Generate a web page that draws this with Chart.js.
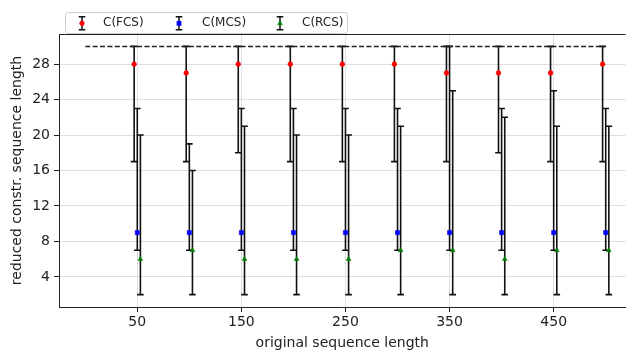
<!DOCTYPE html>
<html>
<head>
<meta charset="utf-8">
<script src="https://cdn.jsdelivr.net/npm/chart.js@4.4.1/dist/chart.umd.min.js"></script>
<style>
  html, body { margin: 0; padding: 0; background: #fff; overflow: hidden; }
</style>
</head>
<body>
<canvas id="chart" width="630" height="352"></canvas>
<script>
// original sequence lengths (x positions)
const lengths = [50, 100, 150, 200, 250, 300, 350, 400, 450, 500];

// C(FCS)
const fcsMean = [28, 27, 28, 28, 28, 28, 27, 27, 27, 28];
const fcsLow  = [17, 17, 18, 17, 17, 17, 17, 18, 17, 17];
const fcsHigh = [30, 30, 30, 30, 30, 30, 30, 30, 30, 30];

// C(MCS)
const mcsMean = [9, 9, 9, 9, 9, 9, 9, 9, 9, 9];
const mcsLow  = [7, 7, 7, 7, 7, 7, 7, 7, 7, 7];
const mcsHigh = [23, 19, 23, 23, 23, 23, 30, 23, 25, 23];

// C(RCS)
const rcsMean = [6, 7, 6, 6, 6, 7, 7, 6, 7, 7];
const rcsLow  = [2, 2, 2, 2, 2, 2, 2, 2, 2, 2];
const rcsHigh = [20, 16, 21, 20, 20, 21, 25, 22, 21, 21];

// upper bound line
const boundX = [0, 500];
const boundY = [30, 30];

const xTicks = [50, 150, 250, 350, 450];
const yTicks = [4, 8, 12, 16, 20, 24, 28];

const FONT = "'DejaVu Sans', sans-serif";

const series = [
    { label: 'C(FCS)', mean: fcsMean, low: fcsLow, high: fcsHigh, shift: -3, color: '#ff0000', style: 'circle', radius: 2.4 },
    { label: 'C(MCS)', mean: mcsMean, low: mcsLow, high: mcsHigh, shift: 0, color: '#0000ff', style: 'rect', radius: 3 },
    { label: 'C(RCS)', mean: rcsMean, low: rcsLow, high: rcsHigh, shift: 3, color: '#008000', style: 'triangle', radius: 2.8 }
];

const CAP = 3.3;

function drawErrorBar(ctx, x, yTop, yBottom) {
    ctx.beginPath();
    ctx.moveTo(x, yTop);
    ctx.lineTo(x, yBottom);
    ctx.moveTo(x - CAP, yTop);
    ctx.lineTo(x + CAP, yTop);
    ctx.moveTo(x - CAP, yBottom);
    ctx.lineTo(x + CAP, yBottom);
    ctx.stroke();
}

// error bars drawn under the markers
const errorBars = {
    id: 'errorBars',
    beforeDatasetsDraw(chart) {
        const { ctx, chartArea, scales } = chart;
        ctx.save();
        ctx.beginPath();
        ctx.rect(chartArea.left, chartArea.top, chartArea.right - chartArea.left, chartArea.bottom - chartArea.top);
        ctx.clip();
        ctx.strokeStyle = '#111';
        ctx.lineWidth = 1.6;
        series.forEach(s => {
            lengths.forEach((len, i) => {
                const x = scales.x.getPixelForValue(len + s.shift);
                drawErrorBar(ctx, x, scales.y.getPixelForValue(s.high[i]), scales.y.getPixelForValue(s.low[i]));
            });
        });
        ctx.restore();
    }
};

// top spine + legend box
const frame = {
    id: 'frame',
    afterDraw(chart) {
        const { ctx, chartArea } = chart;
        ctx.save();
        ctx.strokeStyle = '#222';
        ctx.lineWidth = 1;
        ctx.beginPath();
        ctx.moveTo(chartArea.left, chartArea.top + 0.5);
        ctx.lineTo(chartArea.right, chartArea.top + 0.5);
        ctx.stroke();

        // legend
        const bx = 65.5, by = 12.5, bw = 282, bh = 21;
        ctx.fillStyle = 'rgba(255,255,255,0.85)';
        ctx.strokeStyle = '#cccccc';
        ctx.lineWidth = 1;
        ctx.beginPath();
        ctx.roundRect(bx, by, bw, bh, 2);
        ctx.fill();
        ctx.stroke();

        const iconX = [82, 179, 280];
        const textX = [103, 202, 302];
        const cy = 23.3;
        series.forEach((s, k) => {
            ctx.strokeStyle = '#111';
            ctx.lineWidth = 1.5;
            drawErrorBar(ctx, iconX[k], cy - 6.5, cy + 6.5);
            ctx.fillStyle = s.color;
            ctx.strokeStyle = s.color;
            ctx.lineWidth = 0.5;
            Chart.helpers.drawPoint(ctx, { pointStyle: s.style, radius: s.radius, borderWidth: 0.5, rotation: 0 }, iconX[k], cy);
            ctx.fillStyle = '#222';
            ctx.font = '12px ' + FONT;
            ctx.textAlign = 'left';
            ctx.textBaseline = 'middle';
            ctx.fillText(s.label, textX[k], cy);
        });
        ctx.restore();
    }
};

const datasets = series.map(s => ({
    label: s.label,
    data: lengths.map((len, i) => ({ x: len + s.shift, y: s.mean[i] })),
    pointStyle: s.style,
    pointRadius: s.radius,
    pointBackgroundColor: s.color,
    pointBorderColor: s.color,
    pointBorderWidth: 0.5,
    showLine: false
}));

datasets.unshift({
    label: 'bound',
    type: 'line',
    data: boundX.map((x, i) => ({ x: x, y: boundY[i] })),
    borderColor: '#222',
    borderWidth: 1.5,
    borderDash: [5, 2.4],
    pointRadius: 0,
    fill: false
});

new Chart(document.getElementById('chart').getContext('2d'), {
    type: 'scatter',
    data: { datasets: datasets },
    plugins: [errorBars, frame],
    options: {
        responsive: false,
        animation: false,
        events: [],
        layout: { padding: { top: 34, right: 0, left: 0, bottom: 0 } },
        plugins: {
            legend: { display: false },
            tooltip: { enabled: false }
        },
        scales: {
            x: {
                type: 'linear',
                min: -25.2,
                max: 519,
                afterBuildTicks: axis => { axis.ticks = xTicks.map(v => ({ value: v })); },
                afterFit: axis => { axis.height = 45; },
                grid: { color: '#dedede', lineWidth: 1, tickColor: '#222', tickLength: 5 },
                border: { color: '#222', width: 1 },
                ticks: { color: '#222', font: { family: FONT, size: 14 }, padding: 2, maxRotation: 0 },
                title: {
                    display: true,
                    text: 'original sequence length',
                    color: '#222',
                    font: { family: FONT, size: 14 },
                    padding: { top: 0, bottom: 0 }
                }
            },
            y: {
                type: 'linear',
                min: 0.6,
                max: 31.4,
                afterBuildTicks: axis => { axis.ticks = yTicks.map(v => ({ value: v })); },
                afterFit: axis => { axis.width = 59; },
                grid: { color: '#dedede', lineWidth: 1, tickColor: '#222', tickLength: 5 },
                border: { color: '#222', width: 1 },
                ticks: { color: '#222', font: { family: FONT, size: 14 }, padding: 4 },
                title: {
                    display: true,
                    text: 'reduced constr. sequence length',
                    color: '#222',
                    font: { family: FONT, size: 14 },
                    padding: { top: 9, bottom: 0 }
                }
            }
        }
    }
});
</script>
</body>
</html>
